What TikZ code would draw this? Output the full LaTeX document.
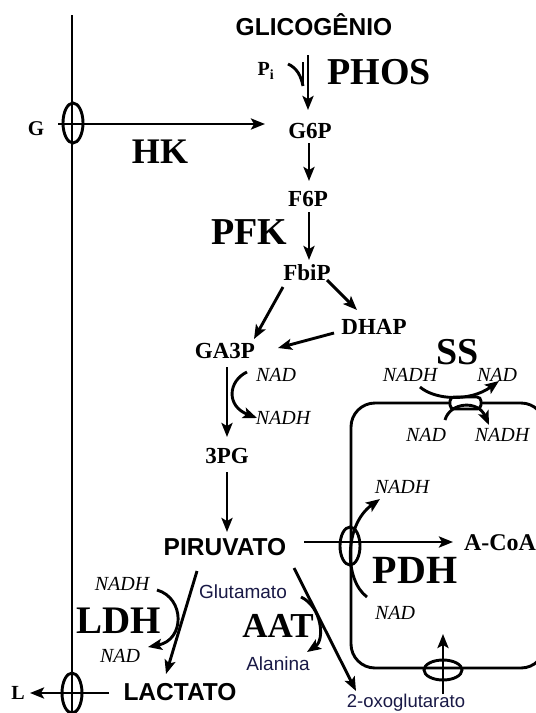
\documentclass[tikz,border=0pt]{standalone}
\usepackage{fontspec}
\setmainfont{Liberation Serif}
\setsansfont{Liberation Sans}
\usetikzlibrary{arrows.meta}
\definecolor{navy}{RGB}{25,25,70}
\begin{document}
\begin{tikzpicture}[x=1pt,y=-1pt,
  line width=2.9pt,
  arr/.style={-{Stealth[length=14pt,width=11pt,inset=3pt]}},
  met/.style={font=\bfseries\fontsize{23}{23}\selectfont, inner sep=0pt},
  enz/.style={font=\bfseries\fontsize{38}{38}\selectfont, inner sep=0pt},
  cof/.style={font=\itshape\fontsize{20}{20}\selectfont, inner sep=0pt},
  big/.style={font=\sffamily\bfseries\fontsize{24.5}{24.5}\selectfont, inner sep=0pt},
  aa/.style={font=\sffamily\fontsize{19}{19}\selectfont, text=navy, inner sep=0pt}
]
\useasboundingbox (0,0) rectangle (536,713);
\fill[white] (0,0) rectangle (536,713);

% ---------- text nodes ----------
\node[big] (glyc) at (314,25) {GLICOGÊNIO};
\node[met, font=\bfseries\fontsize{20}{20}\selectfont] (pi) at (266,71) {P\textsubscript{i}};
\node[enz] (phos) at (379,72) {PHOS};
\node[met, font=\bfseries\fontsize{21}{21}\selectfont] (g) at (36,129) {G};
\node[enz, font=\bfseries\fontsize{36}{36}\selectfont] (hk) at (160,152) {HK};
\node[met] (g6p) at (310,131) {G6P};
\node[met] (f6p) at (308,199) {F6P};
\node[enz] (pfk) at (249,232) {PFK};
\node[met] (fbip) at (307,273) {FbiP};
\node[met] (dhap) at (374,327) {DHAP};
\node[met] (ga3p) at (225,351) {GA3P};
\node[cof] (nad1) at (276,375) {NAD};
\node[cof] (nadh1) at (283,418) {NADH};
\node[met] (pg3) at (227,456) {3PG};
\node[big] (pir) at (225,547) {PIRUVATO};
\node[met, font=\bfseries\fontsize{24}{24}\selectfont] (acoa) at (500,543) {A-CoA};
\node[enz, font=\bfseries\fontsize{40}{40}\selectfont] (pdh) at (415,570) {PDH};
\node[cof] (nadh2) at (402,487) {NADH};
\node[cof] (nad2) at (395,613) {NAD};
\node[enz] (ss) at (458,352) {SS};
\node[cof] (nadh3) at (410,375) {NADH};
\node[cof] (nad3) at (497,375) {NAD};
\node[cof] (nad4) at (426,435) {NAD};
\node[cof] (nadh4) at (502,435) {NADH};
\node[cof] (nadh5) at (122,584) {NADH};
\node[enz, font=\bfseries\fontsize{39}{39}\selectfont] (ldh) at (119,621) {LDH};
\node[cof] (nad5) at (120,656) {NAD};
\node[aa] (glu) at (243,592) {Glutamato};
\node[enz, font=\bfseries\fontsize{35}{35}\selectfont] (aat) at (278,626) {AAT};
\node[aa] (ala) at (278,664) {Alanina};
\node[aa, font=\sffamily\fontsize{18.5}{18.5}\selectfont, anchor=base] (oxo) at (406,707) {2-oxoglutarato};
\node[big] (lac) at (180,692) {LACTATO};
\node[met, font=\bfseries\fontsize{20}{20}\selectfont] (l) at (18,693) {L};

% ---------- membrane ----------
\coordinate (mtop) at (72,15);
\coordinate (mbot) at (72,713);
\draw (mtop) -- (mbot);

% ---------- mitochondrion ----------
\draw[rounded corners=24pt] (351,403) rectangle (545,668);

% ---------- coordinates for connector ends ----------
\coordinate (a1s) at (308,55);   \coordinate (a1e) at (308,110);
\coordinate (pis) at (288,64);   \coordinate (pie) at (303,86);
\coordinate (pit) at (303,62);
\coordinate (hks) at (58,124);   \coordinate (hke) at (265,124);
\coordinate (a3s) at (309,143);  \coordinate (a3e) at (309,181);
\coordinate (a4s) at (309,212);  \coordinate (a4e) at (309,260);
\coordinate (a5s) at (283,287);  \coordinate (a5e) at (254,339);
\coordinate (a6s) at (327,280);  \coordinate (a6e) at (357,310);
\coordinate (a7s) at (334,333);  \coordinate (a7e) at (278,348);
\coordinate (a8s) at (227,367);  \coordinate (a8e) at (227,437);
\coordinate (g3s) at (247,372);  \coordinate (g3e) at (257,418);
\coordinate (a10s) at (227,472); \coordinate (a10e) at (227,532);
\coordinate (a11s) at (304,542); \coordinate (a11e) at (453,542);
\coordinate (pdhs) at (367,597); \coordinate (pdhe) at (380,499);
\coordinate (bts) at (443,694);  \coordinate (bte) at (443,634);
\coordinate (ss1s) at (420,387); \coordinate (ss1e) at (499,381);
\coordinate (ss2s) at (445,420); \coordinate (ss2e) at (489,425);
\coordinate (a14s) at (197,571); \coordinate (a14e) at (166,674);
\coordinate (ldhs) at (157,590); \coordinate (ldhe) at (148,647);
\coordinate (a16s) at (294,568); \coordinate (a16e) at (356,691);
\coordinate (aats) at (301,597); \coordinate (aate) at (307,652);
\coordinate (lacs) at (109,693); \coordinate (lace) at (30,693);

% ---------- transporters ----------
\draw (73,123) ellipse [x radius=10pt, y radius=20pt];
\draw (350,546) ellipse [x radius=10pt, y radius=19pt];
\draw (443,670) ellipse [x radius=19pt, y radius=10pt];
\draw (72,693) ellipse [x radius=10pt, y radius=20pt];
\draw[fill=white, rounded corners=4pt] (450,397) rectangle (481,409);

% ---------- connectors ----------
\draw[arr] (a1s) -- (a1e);
\draw (pis) .. controls (297,68) and (301,76) .. (pie);
\draw[line width=2.2pt] (pit) -- (pie);
\draw[arr] (hks) -- (hke);
\draw[arr] (a3s) -- (a3e);
\draw[arr] (a4s) -- (a4e);
\draw[arr] (a5s) -- (a5e);
\draw[arr] (a6s) -- (a6e);
\draw[arr] (a7s) -- (a7e);
\draw[arr] (a8s) -- (a8e);
\draw[arr] (g3s) .. controls (228,381) and (226,406) .. (g3e);
\draw[arr] (a10s) -- (a10e);
\draw[arr] (a11s) -- (a11e);
\draw[arr] (pdhs) .. controls (344,580) and (344,525) .. (pdhe);
\draw[arr] (bts) -- (bte);
\draw[arr] (ss1s) .. controls (435,400) and (470,402) .. (ss1e);
\draw[arr] (ss2s) .. controls (450,402) and (478,400) .. (ss2e);
\draw[arr] (a14s) -- (a14e);
\draw[arr] (ldhs) .. controls (185,598) and (185,640) .. (ldhe);
\draw[arr] (a16s) -- (a16e);
\draw[arr] (aats) .. controls (322,607) and (325,640) .. (aate);
\draw[arr] (lacs) -- (lace);
\end{tikzpicture}
\end{document}
